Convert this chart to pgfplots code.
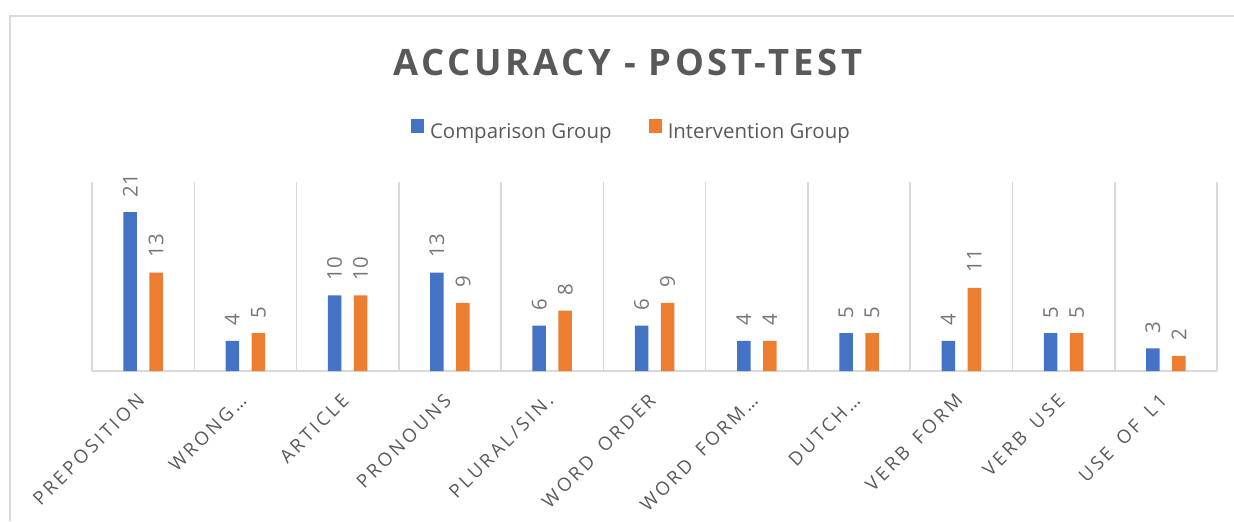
\documentclass[border=0pt]{standalone}
\usepackage{pgfplots}
\pgfplotsset{compat=1.18}
\usepackage{fontspec}
\setmainfont{Open Sans}
\newfontfamily\titlefont[LetterSpace=10]{Open Sans}
\newfontfamily\tickfont[LetterSpace=16, WordSpace=1.6]{Open Sans}
\definecolor{cblue}{HTML}{4472C4}
\definecolor{corange}{HTML}{ED7D31}
\definecolor{txt}{HTML}{595959}
\definecolor{lbl}{HTML}{767676}
\definecolor{gridc}{HTML}{D9D9D9}
\begin{document}
\begin{tikzpicture}
\path[use as bounding box] (0,0) rectangle (617pt,260.5pt);
\draw[gridc, line width=1pt] (4.75pt,0) -- (4.75pt,252.6pt) -- (617pt,252.6pt);
\node[text=txt, inner sep=0pt, font=\titlefont\fontsize{18.2}{20}\selectfont\bfseries] at (314pt,229.5pt) {ACCURACY - POST-TEST};
\begin{axis}[
  at={(46pt,75pt)}, anchor=south west,
  scale only axis, width=562.5pt, height=94.5pt,
  xmin=-0.5, xmax=10.5, ymin=0, ymax=25,
  ybar=6.25pt, bar width=6.75pt,
  /pgf/number format/assume math mode=true,
  axis x line*=bottom,
  x axis line style={gridc, line width=1pt, -},
  hide y axis,
  xtick={0,...,10},
  xticklabels={PREPOSITION, WRONG…, ARTICLE, PRONOUNS, PLURAL/SIN., WORD ORDER, WORD FORM…, DUTCH…, VERB FORM, VERB USE, USE OF L1},
  xtick style={draw=none},
  xticklabel style={font=\tickfont\fontsize{9.3}{11}\selectfont, text=txt, inner sep=0pt, xshift=-1.05pt, yshift=-8.75pt, rotate=45, anchor=east},
  extra x ticks={-0.5,0.5,...,10.5},
  extra x tick labels={},
  extra x tick style={grid=major, major grid style={gridc, line width=0.75pt}, tick style={draw=none}},
  nodes near coords,
  every node near coord/.append style={font=\fontsize{10.2}{12}\selectfont, text=lbl, rotate=90, anchor=west, inner xsep=7.4pt, inner ysep=0pt},
  legend columns=2,
  legend style={at={(0.4785,1.275)}, anchor=center, draw=none, fill=none, font=\fontsize{10.2}{12}\selectfont, text=txt,
    nodes={inner sep=0pt},
    /tikz/every odd column/.append style={column sep=3pt},
    /tikz/every even column/.append style={column sep=18.5pt}},
  legend image code/.code={\fill[#1] (0pt,0pt) rectangle (6.6pt,7pt);},
]
\addplot[fill=cblue, draw=none] coordinates {(0,21) (1,4) (2,10) (3,13) (4,6) (5,6) (6,4) (7,5) (8,4) (9,5) (10,3)};
\addplot[fill=corange, draw=none] coordinates {(0,13) (1,5) (2,10) (3,9) (4,8) (5,9) (6,4) (7,5) (8,11) (9,5) (10,2)};
\legend{Comparison Group, Intervention Group}
\end{axis}
\end{tikzpicture}
\end{document}
